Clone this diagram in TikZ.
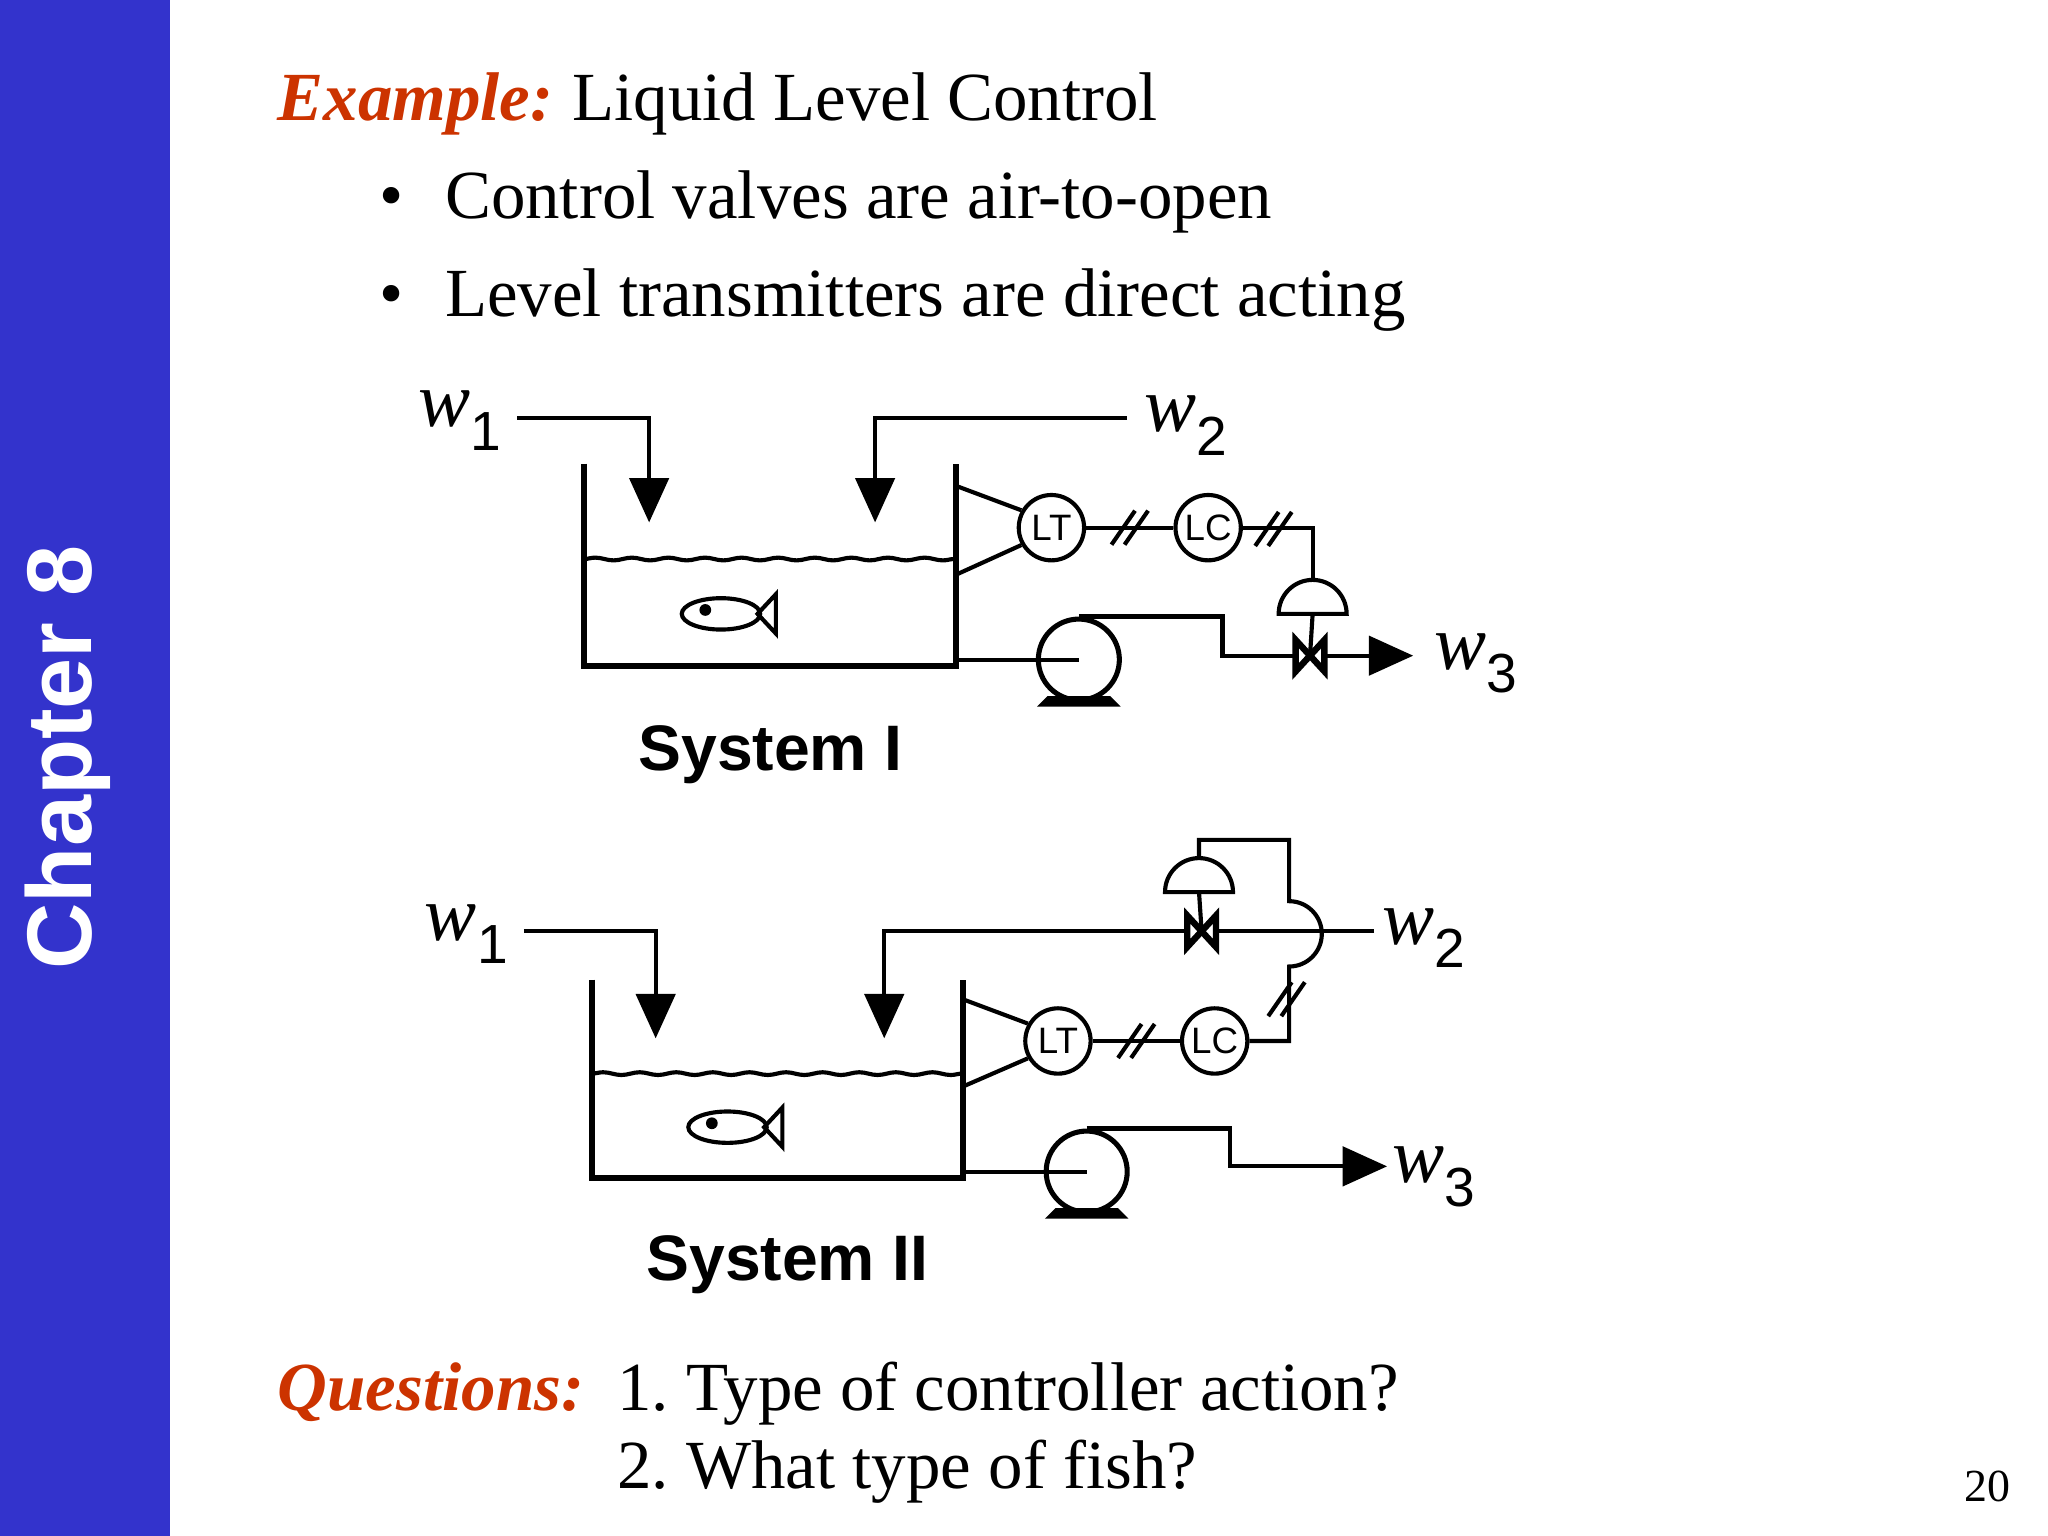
\documentclass[tikz,border=0pt]{standalone}
\usepackage{fontspec}
\setmainfont{Liberation Serif}
\newfontfamily\sansfam{Liberation Sans}
\usetikzlibrary{arrows.meta, calc, decorations.pathmorphing}
\definecolor{barblue}{RGB}{51,51,204}
\definecolor{exred}{RGB}{204,51,0}
\frenchspacing

% bow-tie valve and diaphragm actuator
\newcommand{\valvesym}[1]{\draw[pipe, line width=1.4pt, line join=miter] ($(#1)+(-11,-12)$) -- ($(#1)+(11,12)$) -- ($(#1)+(11,-12)$) -- ($(#1)+(-11,12)$) -- cycle;}
\newcommand{\dome}[1]{\draw[pipe] ($(#1)+(-0.26cm,0)$) arc[start angle=180, end angle=0, radius=0.26cm] -- cycle;}
\newcommand{\fish}[1]{%
  \draw[pipe] (#1) ellipse[x radius=0.3cm, y radius=0.12cm];
  \draw[pipe] ($(#1)+(28,0)$) -- ($(#1)+(42,-15)$) -- ($(#1)+(42,15)$) -- cycle;
  \fill ($(#1)+(-12,-3)$) circle[radius=0.045cm];}
\newcommand{\pumpbase}[1]{\fill ($(#1)+(-32,36)$) -- ($(#1)+(-24,28)$) -- ($(#1)+(24,28)$) -- ($(#1)+(32,36)$) -- cycle;}
\newcommand{\ticks}[1]{%
  \draw[pipe] ($(#1)+(-14,13)$) -- ($(#1)+(4,-13)$);
  \draw[pipe] ($(#1)+(-4,13)$) -- ($(#1)+(14,-13)$);}
\newcommand{\wsub}[1]{w\raisebox{-0.3em}{\sansfam\fontsize{12}{12}\selectfont\upshape #1}}

\begin{document}
\begin{tikzpicture}[x=0.01cm, y=-0.01cm,
  pipe/.style={line width=0.9pt},
  flow/.style={pipe, -{Triangle[length=0.34cm, width=0.3cm]}},
  inst/.style={circle, draw, line width=0.9pt, minimum size=0.5cm, inner sep=0pt,
    font=\sansfam\fontsize{8}{8}\selectfont},
  pump/.style={circle, draw, line width=1.1pt, minimum size=0.62cm, inner sep=0pt},
  stream/.style={font=\fontsize{17}{17}\selectfont\itshape},
  syslabel/.style={font=\sansfam\bfseries\fontsize{14}{14}\selectfont},
  slide/.style={font=\fontsize{15}{18}\selectfont, anchor=base west, inner sep=0pt},
  hl/.style={font=\fontsize{15}{18}\selectfont\bfseries\itshape, text=exred, anchor=base west, inner sep=0pt},
  level/.style={pipe, decorate, decoration={snake, segment length=0.28cm, amplitude=0.3pt}}]
\useasboundingbox (0,0) rectangle (1568,1176);

% side bar
\fill[barblue] (0,0) rectangle (130,1176);
\node[rotate=90, text=white, font=\sansfam\bfseries\fontsize{20}{20}\selectfont] (chap) at (52,580) {Chapter 8};

% text
\node[hl] (ex) at (212,92) {Example:};
\node[slide] (title) at (ex.base east) {\ Liquid Level Control};
\node[slide] (b1) at (290,167) {\textbullet\hspace{0.6em}Control valves are air-to-open};
\node[slide] (b2) at (290,242) {\textbullet\hspace{0.6em}Level transmitters are direct acting};
\node[hl] (qs) at (212,1080) {Questions:};
\node[slide] (q1) at (472,1080) {1. Type of controller action?};
\node[slide] (q2) at (472,1140) {2. What type of fish?};
\node[font=\fontsize{10}{10}\selectfont] (pg) at (1522,1138) {20};

% ---- System I
\node[stream] (wa) at (352,322) {\wsub{1}};
\node[stream] (wb) at (908,326) {\wsub{2}};
\node[stream] (wc) at (1130,508) {\wsub{3}};
\coordinate (ta) at (497,400);
\coordinate (tb) at (670,400);
\draw[flow] (wa.east |- 0,320) -| (ta);
\draw[flow] (863,320) -| (tb);
\draw[pipe, line width=1.3pt] (447,355) |- (732,510) -- (732,355);
\draw[level] (447,428) -- (732,428);
\fish{552,470}
\node[inst] (lt1) at (805,404) {LT};
\node[inst] (lc1) at (925,404) {LC};
\draw[pipe] (732,372) -- (lt1.150);
\draw[pipe] (732,440) -- (lt1.210);
\draw[pipe] (lt1) -- (lc1);
\ticks{865,404}
\coordinate (act1) at (1005,470);
\draw[pipe] (lc1) -| ($(act1)+(0,-26)$);
\ticks{975,405}
\dome{act1}
\coordinate (v1) at (1003,502);
\draw[pipe] (act1) -- (v1);
\node[pump] (p1) at (826,505) {};
\pumpbase{p1}
\draw[pipe] (p1.center -| 732,0) -- (p1.center);
\draw[pipe] (p1.north) -| ($(v1)+(-67,0)$) -- ($(v1)+(-11,0)$);
\valvesym{v1}
\draw[flow] ($(v1)+(11,0)$) -- (1082,502);

\node[syslabel] (s1) at (590,578) {System I};

% ---- System II
\node[stream] (wd) at (357,715) {\wsub{1}};
\node[stream] (we) at (1090,718) {\wsub{2}};
\node[stream] (wf) at (1098,901) {\wsub{3}};
\coordinate (td) at (502,795);
\coordinate (te) at (677,795);
\draw[flow] (wd.east |- 0,713) -| (td);
\coordinate (v2) at (920,713);
\draw[pipe] (1052,713) -- ($(v2)+(11,0)$);
\draw[flow] ($(v2)+(-11,0)$) -| (te);
\valvesym{v2}
\coordinate (act2) at (918,683);
\dome{act2}
\draw[pipe] (act2) -- (v2);
\draw[pipe, line width=1.3pt] (453,750) |- (737,902) -- (737,750);
\draw[level] (453,822) -- (737,822);
\fish{557,863}
\node[inst] (lt2) at (810,797) {LT};
\node[inst] (lc2) at (930,797) {LC};
\draw[pipe] (737,765) -- (lt2.150);
\draw[pipe] (737,832) -- (lt2.210);
\draw[pipe] (lt2) -- (lc2);
\ticks{870,797}
\draw[pipe] (lc2) -| (987,740) arc[start angle=-90, end angle=90, radius=0.25cm] |- (918,643) -- ($(act2)+(0,-26)$);
\ticks{985,765}
\node[pump] (p2) at (832,897) {};
\pumpbase{p2}
\draw[pipe] (p2.center -| 737,0) -- (p2.center);
\draw[flow] (p2.north) -| (942,893) -- (1062,893);
\node[syslabel] (s2) at (603,968) {System II};
\end{tikzpicture}
\end{document}
